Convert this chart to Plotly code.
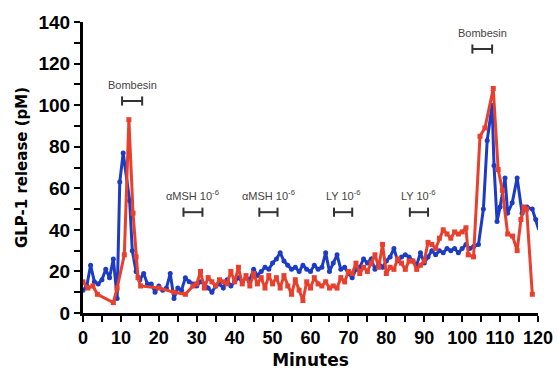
import plotly.graph_objects as go

# ---- data ----
blue_t = [0, 1, 2, 3, 4, 5, 6, 7, 8, 9, 9.7, 10.6, 12.3, 13, 14, 15, 16, 17, 18, 19, 20,
          21, 22, 23, 24, 25, 26, 27, 28, 29, 30, 31, 32, 33, 34, 35, 36, 37, 38, 39, 40,
          41, 42, 43, 44, 45, 46, 47, 48, 49, 50, 51, 52, 53, 54, 55, 56, 57, 58, 59, 60,
          61, 62, 63, 64, 65, 66, 67, 68, 69, 70, 71, 72, 73, 74, 75, 76, 77, 78, 79, 80,
          81, 82, 83, 84, 85, 86, 87, 88, 89, 90, 91, 92, 93, 94, 95, 96, 97, 98, 99, 100,
          101, 102, 103, 104.3, 105.6, 106.6, 107.9, 108.4, 109.2, 110, 111.3, 112, 113.2,
          114.5, 115.8, 117.1, 118.5, 119.4, 120.2]
blue_v = [11, 13, 23, 15, 14, 16, 21, 17, 26, 7, 63, 77, 54, 30, 20, 16, 19, 14, 14, 10, 13,
          11, 12, 19, 7, 12, 11, 17, 15, 14, 13, 15, 14, 12, 10, 13, 14, 12, 16, 13, 15,
          17, 15, 17, 16, 21, 18, 20, 22, 21, 24, 26, 29, 25, 23, 21, 22, 20, 23, 21, 20,
          23, 21, 22, 29, 20, 24, 28, 21, 22, 19, 17, 21, 22, 26, 24, 26, 21, 24, 22, 25,
          27, 31, 25, 27, 28, 27, 25, 23, 29, 24, 27, 30, 28, 30, 29, 31, 30, 31, 29, 31,
          33, 31, 32, 33, 50, 83, 100, 71, 44, 51, 65, 48, 53,
          65, 48, 51, 50, 45, 40]

red_t = [0, 1.3, 2.6, 3.8, 8, 9, 10.9, 12.1, 13.2, 14, 14.5, 15.2, 20, 24, 27, 29, 30,
         31, 32, 33, 34, 35, 36, 37, 38, 39, 40, 41, 42, 43, 44, 45, 46, 47, 48, 49, 50,
         51, 52, 53, 54, 55, 56, 57, 58, 59, 60, 61, 62, 63, 64, 65, 66, 67, 68, 69, 70,
         71, 72, 73, 74, 75, 76, 77, 78, 79, 80, 81, 82, 83, 84, 85, 86, 87, 88, 89, 90,
         91, 92, 93, 94, 95, 96, 97, 98, 99, 100, 101, 101.6, 103, 104.7, 106, 108.2,
         109.5, 110.6, 112, 113.3, 114.5, 115.5, 116.3, 117, 118.5]
red_v = [15, 12, 13, 9, 5, 12, 28, 93, 48, 27, 17, 13, 12, 10, 9, 13, 14,
         20, 12, 17, 15, 13, 16, 15, 14, 20, 15, 22, 14, 18, 13, 19, 14, 17, 12, 18, 14,
         17, 12, 18, 13, 9, 16, 11, 6, 15, 12, 17, 14, 13, 15, 12, 13, 12, 17, 15, 20,
         19, 24, 19, 22, 20, 24, 28, 22, 33, 19, 22, 21, 26, 24, 21, 25, 25, 21, 23, 25,
         34, 33, 31, 36, 40, 38, 36, 39, 38, 39, 41, 28, 27, 85, 89, 108,
         69, 59, 38, 37, 30, 45, 51, 50, 9]

# treatment windows: (start, end, level, label)
treat_start = [10.3, 26.5, 46.5, 66.2, 86.2, 102.7]
treat_end = [15.6, 31.5, 51.3, 71.0, 91.0, 107.9]
treat_level = [102, 48.5, 48.5, 48.5, 48.5, 127]
treat_label = ["Bombesin", "αMSH 10<sup>-6</sup>", "αMSH 10<sup>-6</sup>",
               "LY 10<sup>-6</sup>", "LY 10<sup>-6</sup>", "Bombesin"]

x_ticks = list(range(0, 121, 10))
y_ticks = list(range(0, 141, 20))

BLUE = "#1c3cc4"
RED = "#e8402c"

fig = go.Figure()
fig.add_trace(go.Scatter(x=blue_t, y=blue_v, mode="lines+markers",
                         line=dict(color=BLUE, width=3),
                         marker=dict(color=BLUE, size=5, symbol="circle"),
                         cliponaxis=False))
fig.add_trace(go.Scatter(x=red_t, y=red_v, mode="lines+markers",
                         line=dict(color=RED, width=3),
                         marker=dict(color=RED, size=5, symbol="square"),
                         cliponaxis=False))

cap = 2.2
for s, e, lv, lab in zip(treat_start, treat_end, treat_level, treat_label):
    fig.add_shape(type="line", x0=s, x1=e, y0=lv, y1=lv,
                  line=dict(color="#333333", width=2))
    for xx in (s, e):
        fig.add_shape(type="line", x0=xx, x1=xx, y0=lv - cap, y1=lv + cap,
                      line=dict(color="#333333", width=2))
    fig.add_annotation(x=(s + e) / 2, y=lv + 4, text=lab, showarrow=False,
                       yanchor="bottom",
                       font=dict(family="Liberation Sans, Arial", size=11, color="#444444"))

fig.update_layout(
    width=558, height=373,
    margin=dict(l=83, r=20, t=22, b=60),
    paper_bgcolor="white", plot_bgcolor="white",
    showlegend=False,
    xaxis=dict(range=[0, 120], tickvals=x_ticks, ticktext=[str(v) for v in x_ticks],
               automargin=False,
               showgrid=False, zeroline=False, showline=True, linecolor="black",
               linewidth=3, ticks="outside", ticklen=6, tickwidth=2, tickcolor="black",
               minor=dict(tickvals=list(range(5, 120, 10)), ticks="outside", ticklen=6,
                          tickwidth=2, tickcolor="black"),
               tickfont=dict(family="Liberation Sans, Arial", size=18, color="black",
                             weight="bold"),
               title=dict(text="<b>Minutes</b>", standoff=8,
                          font=dict(family="DejaVu Sans, Verdana", size=17, color="black"))),
    yaxis=dict(range=[0, 140], tickvals=y_ticks, ticktext=[str(v) for v in y_ticks],
               automargin=False,
               showgrid=False, zeroline=False, showline=True, linecolor="black",
               linewidth=3, ticks="outside", ticklen=6, tickwidth=2, tickcolor="black",
               minor=dict(tickvals=list(range(10, 140, 20)), ticks="outside", ticklen=6,
                          tickwidth=2, tickcolor="black"),
               tickfont=dict(family="Liberation Sans, Arial", size=19, color="black",
                             weight="bold"),
               title=dict(text="<b>GLP-1 release (pM)</b>", standoff=8,
                          font=dict(family="DejaVu Sans, Verdana", size=15, color="black"))),
)

fig.write_html("out.html")
